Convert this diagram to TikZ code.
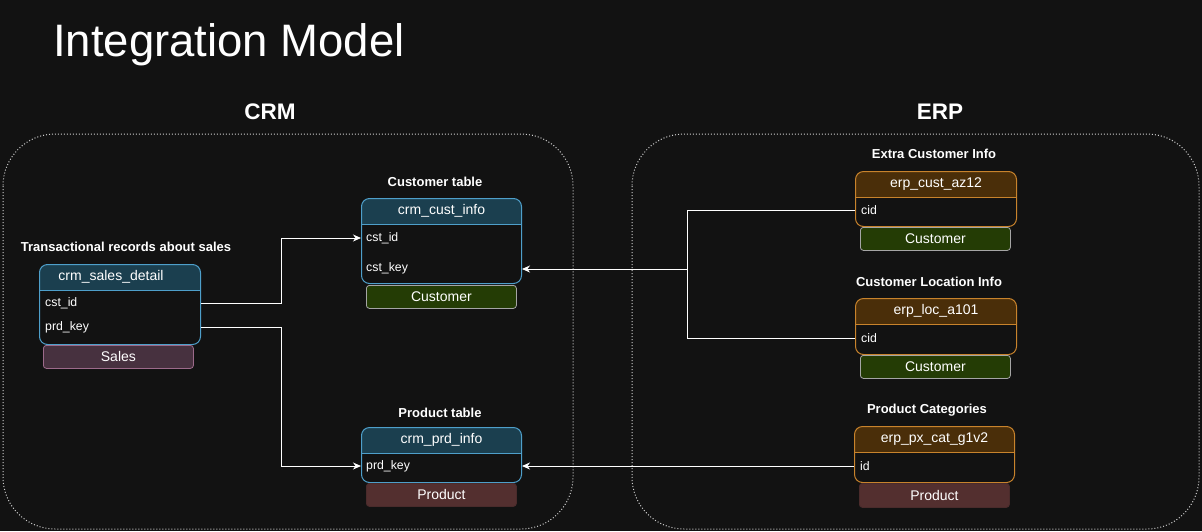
\documentclass[tikz,border=0pt]{standalone}
\usepackage{fontspec}
\setmainfont{Liberation Sans}
\usetikzlibrary{arrows.meta}

\begin{document}
\begin{tikzpicture}[x = 1pt, y = -1pt]
  % styles
  \definecolor{bgcolor}{HTML}{121212}
  \definecolor{dotcolor}{HTML}{D0D0D0}
  \definecolor{crmhead}{HTML}{1B3F4F}
  \definecolor{crmborder}{HTML}{4E9FCA}
  \definecolor{erphead}{HTML}{4A2E09}
  \definecolor{erpborder}{HTML}{C8832C}
  \definecolor{custfill}{HTML}{243C05}
  \definecolor{custborder}{HTML}{A5A5A5}
  \definecolor{prodfill}{HTML}{532F2F}
  \definecolor{prodborder}{HTML}{4A2B2B}
  \definecolor{salesfill}{HTML}{47313F}
  \definecolor{salesborder}{HTML}{9C6A8A}
  \tikzstyle{container} = [draw = dotcolor, line width = 1pt, dash pattern = on 1pt off 2pt, rounded corners = 52pt]
  \tikzstyle{tablebox} = [anchor = north west, minimum width = 160pt, rounded corners = 8pt, line width = 1pt, fill = bgcolor, inner sep = 0pt]
  \tikzstyle{crm table} = [tablebox, draw = crmborder, path picture = {
      \fill[crmhead, sharp corners] (path picture bounding box.north west) rectangle ([yshift = -26pt] path picture bounding box.north east);
      \draw[crmborder, line width = 1pt] ([yshift = -26pt] path picture bounding box.north west) -- ([yshift = -26pt] path picture bounding box.north east);}]
  \tikzstyle{erp table} = [tablebox, draw = erpborder, path picture = {
      \fill[erphead, sharp corners] (path picture bounding box.north west) rectangle ([yshift = -26pt] path picture bounding box.north east);
      \draw[erpborder, line width = 1pt] ([yshift = -26pt] path picture bounding box.north west) -- ([yshift = -26pt] path picture bounding box.north east);}]
  \tikzstyle{head text} = [inner sep = 0pt, text = white, font = \fontsize{14}{16}\selectfont]
  \tikzstyle{row text} = [anchor = west, inner sep = 0pt, text = white, font = \fontsize{12.3}{14}\selectfont]
  \tikzstyle{caption} = [inner sep = 0pt, text = white, font = \fontsize{13}{15}\selectfont\bfseries]
  \tikzstyle{tag} = [anchor = north west, minimum width = 150pt, minimum height = 23pt, rounded corners = 3pt, inner sep = 0pt, line width = 0.8pt, text = white, font = \fontsize{14}{16}\selectfont]
  \tikzstyle{customer tag} = [tag, fill = custfill, draw = custborder]
  \tikzstyle{product tag} = [tag, fill = prodfill, draw = prodborder]
  \tikzstyle{sales tag} = [tag, fill = salesfill, draw = salesborder]
  \tikzstyle{wire} = [draw = white, line width = 1pt]
  \tikzstyle{link} = [wire, -{Stealth[length = 8pt, width = 7pt, inset = 2.5pt]}]

  % background
  \fill[bgcolor] (0, 0) rectangle (1202, 531);
  \useasboundingbox (0, 0) rectangle (1202, 531);

  % titles
  \node[anchor = base west, inner sep = 0pt, text = white, font = \fontsize{45.5}{54}\selectfont] (title) at (53, 56) {Integration Model};
  \node[anchor = base, inner sep = 0pt, text = white, font = \fontsize{22.5}{26}\selectfont\bfseries] (crm) at (270, 119) {CRM};
  \node[anchor = base, inner sep = 0pt, text = white, font = \fontsize{22.5}{26}\selectfont\bfseries] (erp) at (940, 119) {ERP};

  % source system containers
  \draw[container] (3, 134) rectangle (573, 529);
  \draw[container] (632, 134) rectangle (1199, 529);

  % crm_sales_detail
  \node[caption] (sd-title) at (126, 247) {Transactional records about sales};
  \node[crm table, minimum width = 161pt, minimum height = 80pt] (sd) at (39, 264) {};
  \node[head text] (sd-head) at (111, 277) {crm\_sales\_detail};
  \node[row text] (sd-cst) at (45, 303) {cst\_id};
  \node[row text] (sd-prd) at (45, 327) {prd\_key};
  \node[sales tag] (sd-tag) at (43, 345) {Sales};

  % crm_cust_info
  \node[caption] (ci-title) at (435, 182) {Customer table};
  \node[crm table, minimum height = 85pt] (ci) at (361, 198) {};
  \node[head text] (ci-head) at ([yshift = -13pt] ci.north) {crm\_cust\_info};
  \node[row text] (ci-cst) at (366, 238) {cst\_id};
  \node[row text] (ci-key) at (366, 268) {cst\_key};
  \node[customer tag] (ci-tag) at (366, 285) {Customer};

  % crm_prd_info
  \node[caption] (pi-title) at (440, 413) {Product table};
  \node[crm table, minimum height = 55pt] (pi) at (361, 427) {};
  \node[head text] (pi-head) at ([yshift = -13pt] pi.north) {crm\_prd\_info};
  \node[row text] (pi-prd) at (366, 466) {prd\_key};
  \node[product tag] (pi-tag) at (366, 483) {Product};

  % erp_cust_az12
  \node[caption] (az-title) at (934, 154) {Extra Customer Info};
  \node[erp table, minimum width = 161pt, minimum height = 55pt] (az) at (855, 171) {};
  \node[head text] (az-head) at ([yshift = -13pt] az.north) {erp\_cust\_az12};
  \node[row text] (az-cid) at (861, 210) {cid};
  \node[customer tag] (az-tag) at (860, 227) {Customer};

  % erp_loc_a101
  \node[caption] (loc-title) at (929, 282) {Customer Location Info};
  \node[erp table, minimum width = 161pt, minimum height = 56pt] (loc) at (855, 298) {};
  \node[head text] (loc-head) at ([yshift = -13pt] loc.north) {erp\_loc\_a101};
  \node[row text] (loc-cid) at (861, 338) {cid};
  \node[customer tag] (loc-tag) at (860, 355) {Customer};

  % erp_px_cat_g1v2
  \node[caption] (px-title) at (927, 410) {Product Categories};
  \node[erp table, minimum height = 56pt] (px) at (854, 426) {};
  \node[head text] (px-head) at ([yshift = -13pt] px.north) {erp\_px\_cat\_g1v2};
  \node[row text] (px-id) at (860, 466) {id};
  \node[product tag, minimum height = 24pt] (px-tag) at (859, 483) {Product};

  % crm relations
  \draw[link] (sd.east |- sd-cst) -- ++(80, 0) |- (ci.west |- ci-cst);
  \draw[link] (sd.east |- sd-prd) -- ++(80, 0) |- (pi.west |- pi-prd);

  % erp relations
  \coordinate (join) at (687, 269);
  \draw[wire] (az.west |- az-cid) -| (join);
  \draw[wire] (loc.west |- loc-cid) -| (join);
  \draw[link] (join) -- (ci.east |- join);
  \draw[link] (px.west |- px-id) -- (pi.east |- px-id);

\end{tikzpicture}
\end{document}
